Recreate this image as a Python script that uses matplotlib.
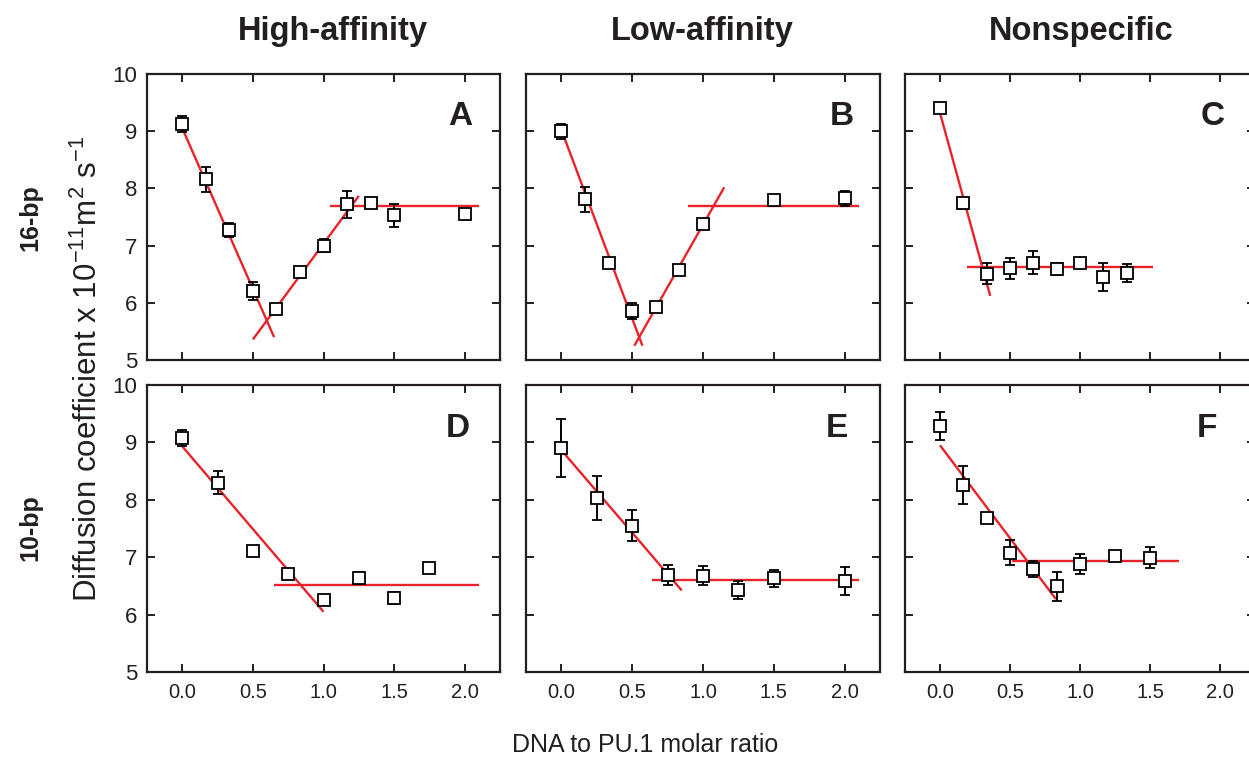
import matplotlib
matplotlib.use("Agg")
import matplotlib.pyplot as plt

REG = "Liberation Sans"

# ---------------- data ----------------
col_titles = ["High-affinity", "Low-affinity", "Nonspecific"]
row_titles = ["16-bp", "10-bp"]
panel_letters = ["A", "B", "C", "D", "E", "F"]
xtick_vals = [0.0, 0.5, 1.0, 1.5, 2.0]
ytick_vals = [5, 6, 7, 8, 9, 10]

# A: 16-bp high-affinity
a_x = [0.0, 0.167, 0.333, 0.5, 0.667, 0.833, 1.0, 1.167, 1.333, 1.5, 2.0]
a_y = [9.12, 8.16, 7.27, 6.21, 5.90, 6.53, 7.00, 7.72, 7.75, 7.53, 7.56]
a_e = [0.14, 0.22, 0.12, 0.16, 0.08, 0.10, 0.12, 0.24, 0.05, 0.20, 0.05]
a_fits = [(0.0, 0.65, 9.05, 5.40), (0.50, 1.25, 5.36, 7.87), (1.045, 2.10, 7.69, 7.69)]

# B: 16-bp low-affinity
b_x = [0.0, 0.167, 0.333, 0.5, 0.667, 0.833, 1.0, 1.5, 2.0]
b_y = [9.00, 7.81, 6.69, 5.86, 5.92, 6.57, 7.38, 7.79, 7.83]
b_e = [0.13, 0.22, 0.06, 0.14, 0.06, 0.08, 0.06, 0.05, 0.13]
b_fits = [(0.005, 0.572, 8.99, 5.25), (0.515, 1.15, 5.25, 8.02), (0.893, 2.10, 7.69, 7.69)]

# C: 16-bp nonspecific
c_x = [0.0, 0.167, 0.333, 0.5, 0.667, 0.833, 1.0, 1.167, 1.333]
c_y = [9.40, 7.74, 6.51, 6.60, 6.70, 6.59, 6.70, 6.45, 6.52]
c_e = [0.07, 0.10, 0.19, 0.19, 0.20, 0.10, 0.06, 0.24, 0.15]
c_fits = [(0.0, 0.359, 9.32, 6.12), (0.195, 1.52, 6.62, 6.62)]

# D: 10-bp high-affinity
d_x = [0.0, 0.25, 0.5, 0.75, 1.0, 1.25, 1.5, 1.75]
d_y = [9.08, 8.30, 7.10, 6.71, 6.26, 6.64, 6.29, 6.81]
d_e = [0.14, 0.20, 0.08, 0.05, 0.04, 0.10, 0.10, 0.05]
d_fits = [(0.0, 1.0, 8.93, 6.05), (0.647, 2.10, 6.51, 6.51)]

# E: 10-bp low-affinity
e_x = [0.0, 0.25, 0.5, 0.75, 1.0, 1.25, 1.5, 2.0]
e_y = [8.90, 8.03, 7.55, 6.69, 6.68, 6.43, 6.63, 6.59]
e_e = [0.51, 0.39, 0.27, 0.17, 0.16, 0.16, 0.15, 0.24]
e_fits = [(0.005, 0.85, 8.85, 6.42), (0.643, 2.10, 6.61, 6.61)]

# F: 10-bp nonspecific
f_x = [0.0, 0.167, 0.333, 0.5, 0.667, 0.833, 1.0, 1.25, 1.5]
f_y = [9.29, 8.26, 7.68, 7.08, 6.80, 6.49, 6.88, 7.02, 6.99]
f_e = [0.24, 0.33, 0.06, 0.22, 0.14, 0.25, 0.18, 0.06, 0.18]
f_fits = [(0.0, 0.828, 8.95, 6.27), (0.514, 1.71, 6.94, 6.94)]

panels = [
    (a_x, a_y, a_e, a_fits), (b_x, b_y, b_e, b_fits), (c_x, c_y, c_e, c_fits),
    (d_x, d_y, d_e, d_fits), (e_x, e_y, e_e, e_fits), (f_x, f_y, f_e, f_fits),
]

# ---------------- layout ----------------
W, H = 1249, 761
fig = plt.figure(figsize=(W / 100, H / 100), dpi=100)

col_left = [147, 526, 905]
col_width = [353, 354, 350]
row_top = [74, 385]
row_bot = [360, 672]
letter_x = [0.887, 0.892, 0.878, 0.881, 0.879, 0.864]

RED = "#e8232a"
INK = "#231f20"

for i, (xs, ys, es, fits) in enumerate(panels):
    r, c = divmod(i, 3)
    rect = [col_left[c] / W, 1 - row_bot[r] / H, col_width[c] / W, (row_bot[r] - row_top[r]) / H]
    ax = fig.add_axes(rect)
    ax.set_xlim(-0.25, 2.25)
    ax.set_ylim(5, 10)
    for (x0, x1, y0, y1) in fits:
        ax.plot([x0, x1], [y0, y1], color=RED, lw=1.7, zorder=2, solid_capstyle="butt")
    ax.errorbar(xs, ys, yerr=es, fmt="s", ms=8.5, mfc="white", mec="black", mew=1.3,
                ecolor="black", elinewidth=1.4, capsize=3.4, capthick=1.4, zorder=3)
    ax.set_xticks(xtick_vals)
    ax.set_yticks(ytick_vals)
    ax.tick_params(direction="in", length=6, width=1.4, top=True, right=True,
                   color=INK, pad=8)
    for sp in ax.spines.values():
        sp.set_linewidth(1.6)
        sp.set_color(INK)
    if r == 1:
        ax.set_xticklabels([f"{v:.1f}" for v in xtick_vals], family=REG, fontsize=14.5,
                           color=INK)
    else:
        ax.set_xticklabels([])
    if c == 0:
        ax.set_yticklabels([str(v) for v in ytick_vals], family=REG, fontsize=16,
                           color=INK)
        ax.tick_params(axis="y", pad=7)
    else:
        ax.set_yticklabels([])
    ax.text(letter_x[i], 0.85, panel_letters[i], transform=ax.transAxes,
            ha="center", va="center", fontsize=24, fontweight="bold",
            family=REG, color=INK)

# column titles
for x, t in zip([333, 702, 1081], col_titles):
    fig.text(x / W, 1 - 40 / H, t, ha="center", va="baseline", fontsize=23.5,
             fontweight="bold", family=REG, color=INK)

# row titles
for y, t in zip([218, 528], row_titles):
    fig.text(30 / W, 1 - y / H, t, ha="center", va="center", rotation=90,
             fontsize=18, fontweight="bold", family=REG, color=INK)

fig.text(88 / W, 1 - 369 / H,
         r"Diffusion coefficient x 10$^{\mathregular{-11}}$m$^{\mathregular{2}}$ s$^{\mathregular{-1}}$",
         ha="center", va="center", rotation=90, fontsize=22.5, family=REG, color=INK)

fig.text(645 / W, 1 - 745 / H, "DNA to PU.1 molar ratio", ha="center", va="center",
         fontsize=18, family=REG, color=INK)

fig.savefig("out.png", dpi=100)
